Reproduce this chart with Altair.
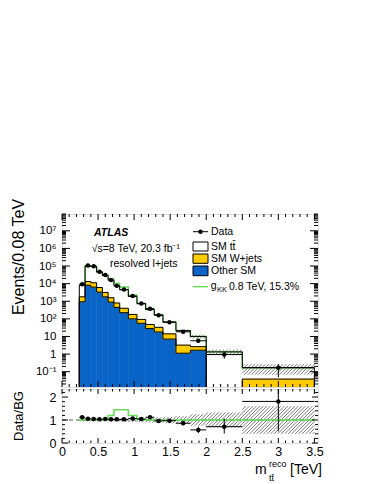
import math
import altair as alt
import numpy as np
import pandas as pd

# ---------------- data ----------------
edges = [0.24, 0.32, 0.40, 0.48, 0.56, 0.64, 0.72, 0.80, 0.92, 1.04, 1.16,
         1.28, 1.40, 1.58, 1.78, 2.0, 2.5, 3.5]
tt = [6540, 86800, 82100, 39700, 26300, 13900, 6620, 4070, 1680, 631, 291,
      133, 52, 18.2, 7.4, 1.32, 0.13]
wjets = [845, 5050, 4910, 2720, 1380, 694, 347, 174, 78, 37, 20, 15, 7.0,
         2.1, 0.97, 0.005, 0.035]
other = [933, 8130, 6310, 3310, 1780, 891, 447, 224, 100, 56, 28, 18, 7.1,
         1.12, 1.66, 0.003, 0.003]
data_main = [9300, 106000, 97000, 47000, 30700, 16000, 7600, 4600, 2000, 750,
             380, 160, 64, 18.4, 5.7, 0.94, 0.17]
ratio = [1.12, 1.06, 1.04, 1.03, 1.04, 1.03, 1.03, 1.03, 1.07, 1.04, 1.12,
         0.96, 0.97, 0.86, 0.57, 0.71, 1.81]
ratio_err_lo = [0.01, 0.005, 0.005, 0.005, 0.005, 0.006, 0.008, 0.01, 0.015,
                0.025, 0.035, 0.05, 0.07, 0.09, 0.14, 0.3, 1.3]
ratio_err_hi = [0.01, 0.005, 0.005, 0.005, 0.005, 0.006, 0.008, 0.01, 0.015,
                0.025, 0.035, 0.05, 0.07, 0.09, 0.14, 0.35, 1.0]
sig_ratio = [1.0, 1.0, 1.0, 1.0, 1.0, 1.2, 1.45, 1.45, 1.2, 1.03, 1.01, 1.0,
             1.0, 1.0, 1.0, 1.0, 1.0]
band_rel = [0.06, 0.06, 0.06, 0.06, 0.06, 0.07, 0.07, 0.08, 0.09, 0.10, 0.11,
            0.12, 0.14, 0.17, 0.25, 0.33, 0.6]

x_major = [0, 0.5, 1, 1.5, 2, 2.5, 3, 3.5]
y_major = [0.1, 1, 10, 1e2, 1e3, 1e4, 1e5, 1e6, 1e7]
r_major = [0, 1, 2]

# ---------------- layout ----------------
W, H1, H2 = 256, 173, 54
XDOM = [0, 3.55]
YDOM = [0.0135, 9e7]
RDOM = [0, 2.35]
FONT = "Liberation Sans"
BLUE = "#0a64c8"
YELLOW = "#ffcc00"
GREEN = "#66dd55"
YLOW = 1e-4

xs = alt.Scale(domain=XDOM, nice=False, zero=False)
ys = alt.Scale(type="log", domain=YDOM, nice=False)
rs = alt.Scale(domain=RDOM, nice=False, zero=False)

lab_expr = ("datum.value < 0.5 ? '10⁻¹' : datum.value < 5 ? '1' : "
            "datum.value < 50 ? '10' : datum.value < 500 ? '10²' : "
            "datum.value < 5e3 ? '10³' : datum.value < 5e4 ? '10⁴' : "
            "datum.value < 5e5 ? '10⁵' : datum.value < 5e6 ? '10⁶' : '10⁷'")
y_axis = alt.Axis(values=y_major, labelExpr=lab_expr, ticks=False,
                  domain=False, grid=False, title=None, labelFont=FONT,
                  labelFontSize=11.5, labelPadding=6, labelColor="black")
r_axis = alt.Axis(values=r_major, ticks=False, domain=False, grid=False,
                  title=None, labelFont=FONT, labelFontSize=12.5,
                  labelPadding=6, labelColor="black", labelFlush=False)
x_axis_r = alt.Axis(values=x_major, format="~g", ticks=False, domain=False,
                    grid=False, title=None, labelFont=FONT,
                    labelFontSize=12.5, labelPadding=2, labelColor="black",
                    labelFlush=False)

lo_e, hi_e = edges[:-1], edges[1:]
centers = [(a + b) / 2 for a, b in zip(lo_e, hi_e)]
blue_top = list(other)
yel_top = [o + w for o, w in zip(other, wjets)]
total = [y + t for y, t in zip(yel_top, tt)]
green_top = [t * s for t, s in zip(total, sig_ratio)]

bins = pd.DataFrame(dict(
    x0=lo_e, x1=hi_e, xc=centers, blue=blue_top, yel=yel_top, tot=total,
    base=[YLOW] * len(tt), data=data_main,
    dlo=[d * (1 - el / r) for d, el, r in zip(data_main, ratio_err_lo, ratio)],
    dhi=[d * (1 + eh / r) for d, eh, r in zip(data_main, ratio_err_hi, ratio)],
    r=ratio,
    rlo=[r - e for r, e in zip(ratio, ratio_err_lo)],
    rhi=[r + e for r, e in zip(ratio, ratio_err_hi)],
))


def step_df(vals, closed=True):
    rows = []
    if closed:
        rows.append((edges[0], YLOW))
    for e, v in zip(lo_e, vals):
        rows.append((e, v))
    rows.append((edges[-1], vals[-1]))
    if closed:
        rows.append((edges[-1], YLOW))
    return pd.DataFrame({"x": [r[0] for r in rows], "y": [r[1] for r in rows],
                         "i": list(range(len(rows)))})


pxx = W / (XDOM[1] - XDOM[0])
pyd = H1 / (math.log10(YDOM[1]) - math.log10(YDOM[0]))
pyr = H2 / (RDOM[1] - RDOM[0])


def hatch(x0, x1, lo, hi, fy, inv, spacing=3.5):
    u0, u1, v0, v1 = x0 * pxx, x1 * pxx, fy(lo), fy(hi)
    out = []
    kmin = math.floor((u0 - v1) / spacing)
    kmax = math.ceil((u1 - v0) / spacing)
    for k in range(kmin, kmax + 1):
        c = k * spacing
        a, b = max(u0, v0 + c), min(u1, v1 + c)
        if b - a > 0.05:
            out.append(dict(x=a / pxx, y=inv(a - c), x2=b / pxx, y2=inv(b - c)))
    return out


main_h, ratio_h = [], []
for a, b, t, br in zip(lo_e, hi_e, total, band_rel):
    main_h += hatch(a, b, t * (1 - br), t * (1 + br),
                    lambda y: math.log10(y) * pyd, lambda v: 10 ** (v / pyd))
    ratio_h += hatch(a, b, 1 - br, 1 + br, lambda r: r * pyr, lambda v: v / pyr)
main_h = pd.DataFrame(main_h)
ratio_h = pd.DataFrame(ratio_h)

one = pd.DataFrame({"a": [0]})


def Xm(f):
    return alt.X(f, type="quantitative", scale=xs, axis=None)


def Xr(f):
    return alt.X(f, type="quantitative", scale=xs, axis=x_axis_r)


def Yl(f):
    return alt.Y(f, type="quantitative", scale=ys, axis=y_axis)


def Yr(f):
    return alt.Y(f, type="quantitative", scale=rs, axis=r_axis)


def ticks(vals, chan, side, length, h, X, Y):
    df = pd.DataFrame({"v": vals})
    base = alt.Chart(df).mark_rule(color="black", strokeWidth=1)
    if chan == "y":
        if side == "left":
            return base.encode(y=Y("v"), x=alt.value(0), x2=alt.value(length))
        return base.encode(y=Y("v"), x=alt.value(W), x2=alt.value(W - length))
    if side == "bottom":
        return base.encode(x=X("v"), y=alt.value(h), y2=alt.value(h - length))
    return base.encode(x=X("v"), y=alt.value(0), y2=alt.value(length))


x_minor = [v for v in np.round(np.arange(0, 3.51, 0.1), 2) if v not in x_major]
y_minor = [m * 10.0 ** k for k in range(-2, 8) for m in range(2, 10)
           if YDOM[0] <= m * 10.0 ** k <= YDOM[1]]
r_minor = [v for v in np.round(np.arange(0, 2.35, 0.2), 2) if v not in r_major]


def txt(s, x, y, size=10.5, align="left", baseline="middle", weight="normal",
        style="normal", angle=0, color="black"):
    return alt.Chart(one).mark_text(
        text=s, align=align, baseline=baseline, font=FONT, fontSize=size,
        fontWeight=weight, fontStyle=style, angle=angle, color=color).encode(
        x=alt.value(x), y=alt.value(y))


def box(x0, x1, y0, y1, fill):
    return alt.Chart(one).mark_rect(fill=fill, stroke="black",
                                    strokeWidth=1).encode(
        x=alt.value(x0), x2=alt.value(x1), y=alt.value(y0), y2=alt.value(y1))


def seg(x0, x1, y, color, width=1.0):
    return alt.Chart(one).mark_rule(color=color, strokeWidth=width).encode(
        x=alt.value(x0), x2=alt.value(x1), y=alt.value(y))


def step_line(vals, color, X, Y, width=1.0, closed=True):
    return alt.Chart(step_df(vals, closed)).mark_line(
        interpolate="step-after", color=color, strokeWidth=width,
        clip=True).encode(x=X("x"), y=Y("y"), order="i:Q")


# ---------------- main panel ----------------
blue_rect = alt.Chart(bins).mark_rect(
    fill=BLUE, stroke=BLUE, strokeWidth=0.6, clip=True).encode(
    x=Xm("x0"), x2="x1", y=Yl("blue"), y2="base")
yel_rect = alt.Chart(bins).mark_rect(
    fill=YELLOW, stroke=YELLOW, strokeWidth=0.6, clip=True).encode(
    x=Xm("x0"), x2="x1", y=Yl("yel"), y2="blue")
hatch_main = alt.Chart(main_h).mark_rule(color="#444", strokeWidth=0.7,
                                          clip=True).encode(
    x=Xm("x"), x2="x2", y=Yl("y"), y2="y2")

green_main = step_line(green_top, GREEN, Xm, Yl, 1.4, closed=False)
blue_line = step_line(blue_top, "black", Xm, Yl)
yel_line = step_line(yel_top, "black", Xm, Yl)
tot_line = step_line(total, "black", Xm, Yl)

err_v = alt.Chart(bins).mark_rule(color="black", clip=True).encode(
    x=Xm("xc"), y=Yl("dlo"), y2="dhi")
err_h = alt.Chart(bins).mark_rule(color="black", clip=True).encode(
    x=Xm("x0"), x2="x1", y=Yl("data"))
pts = alt.Chart(bins).mark_circle(color="black", size=20, opacity=1,
                                  clip=True).encode(x=Xm("xc"), y=Yl("data"))

legend = [
    seg(131, 146, 17.7, "black"),
    alt.Chart(one).mark_circle(color="black", size=20, opacity=1).encode(
        x=alt.value(138.5), y=alt.value(17.7)),
    txt("Data", 149, 17.7),
    box(131, 146, 28, 37, "white"), txt("SM tt̄", 149, 32.5),
    box(131, 146, 40, 49.3, YELLOW), txt("SM W+jets", 149, 45),
    box(131, 146, 52, 61.7, BLUE), txt("Other SM", 149, 56.8),
    seg(131, 146, 72.7, GREEN, 1.4),
    txt("g", 148.7, 71.5), txt("KK", 155, 76, size=7.5),
    txt("0.8 TeV, 15.3%", 167, 72.5),
]

labels_main = [
    txt("ATLAS", 32, 18.7, size=10.5, weight="bold", style="italic"),
    txt("√s=8 TeV, 20.3 fb⁻¹", 29.7, 34.5),
    txt("resolved l+jets", 48, 49.5),
    txt("Events/0.08 TeV", -43, 43, size=16, align="center", angle=270),
]

tick_layers_main = [
    ticks(y_major, "y", "left", 8, H1, Xm, Yl),
    ticks(y_minor, "y", "left", 4, H1, Xm, Yl),
    ticks(y_major, "y", "right", 8, H1, Xm, Yl),
    ticks(y_minor, "y", "right", 4, H1, Xm, Yl),
    ticks(x_major, "x", "bottom", 6, H1, Xm, Yl),
    ticks(x_minor, "x", "bottom", 3, H1, Xm, Yl),
    ticks(x_major, "x", "top", 6, H1, Xm, Yl),
    ticks(x_minor, "x", "top", 3, H1, Xm, Yl),
]

main = alt.layer(
    blue_rect, yel_rect, hatch_main, green_main, blue_line, yel_line, tot_line,
    err_v, err_h, pts, *tick_layers_main, *legend, *labels_main,
).properties(width=W, height=H1)

# ---------------- ratio panel ----------------
dash = alt.Chart(pd.DataFrame({"v": [1]})).mark_rule(
    color="#555", strokeDash=[4, 3], strokeWidth=1).encode(
    y=Yr("v"), x=alt.value(0), x2=alt.value(W * 3.5 / 3.55))
hatch_ratio = alt.Chart(ratio_h).mark_rule(color="#444", strokeWidth=0.7,
                                            clip=True).encode(
    x=Xr("x"), x2="x2", y=Yr("y"), y2="y2")
green_ratio = step_line(sig_ratio, GREEN, Xr, Yr, 1.6, closed=False)

rerr_v = alt.Chart(bins).mark_rule(color="black", clip=True).encode(
    x=Xr("xc"), y=Yr("rlo"), y2="rhi")
rerr_h = alt.Chart(bins).mark_rule(color="black", clip=True).encode(
    x=Xr("x0"), x2="x1", y=Yr("r"))
rpts = alt.Chart(bins).mark_circle(color="black", size=20, opacity=1,
                                   clip=True).encode(x=Xr("xc"), y=Yr("r"))

tick_layers_ratio = [
    ticks(r_major, "y", "left", 6, H2, Xr, Yr),
    ticks(r_minor, "y", "left", 3, H2, Xr, Yr),
    ticks(r_major, "y", "right", 6, H2, Xr, Yr),
    ticks(r_minor, "y", "right", 3, H2, Xr, Yr),
    ticks(x_major, "x", "bottom", 5, H2, Xr, Yr),
    ticks(x_minor, "x", "bottom", 2.5, H2, Xr, Yr),
    ticks(x_major, "x", "top", 5, H2, Xr, Yr),
    ticks(x_minor, "x", "top", 2.5, H2, Xr, Yr),
]

labels_ratio = [
    txt("Data/BG", -43, 27, size=13, align="center", angle=270),
    txt("m", 193, 81, size=14),
    txt("reco", 207, 75, size=9),
    txt("tt̄", 207, 89, size=9),
    txt("[TeV]", 228, 81, size=14),
]

ratio_chart = alt.layer(
    dash, hatch_ratio, green_ratio, rerr_v, rerr_h, rpts,
    *tick_layers_ratio, *labels_ratio,
).properties(width=W, height=H2)

chart = alt.vconcat(main, ratio_chart, spacing=0).properties(
    padding={"left": 2, "top": 190, "right": 5, "bottom": 5},
).configure_view(stroke="black", strokeWidth=1).configure(
    background="white")

chart.save("out.html", embed_options={"renderer": "svg", "actions": False})
